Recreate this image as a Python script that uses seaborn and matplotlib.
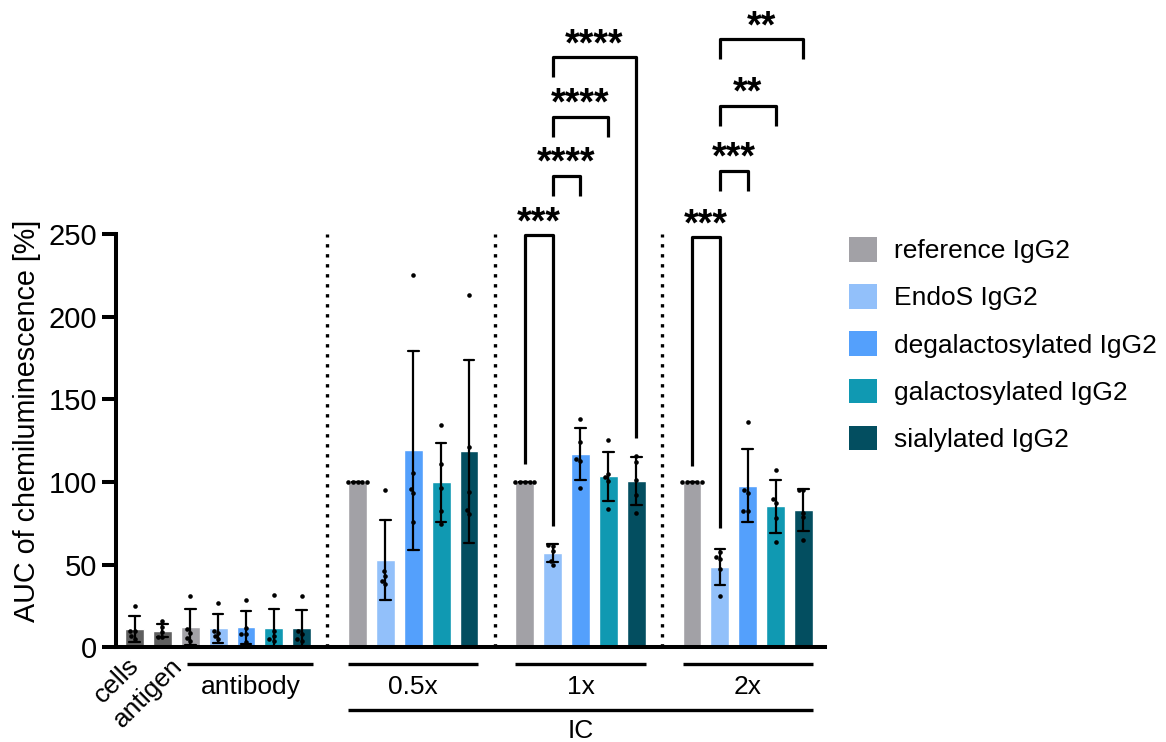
import numpy as np
import pandas as pd
import matplotlib
matplotlib.use("Agg")
import matplotlib.pyplot as plt
from matplotlib.patches import Patch
import seaborn as sns

# ---- data: AUC of chemiluminescence [%], five replicates per bar ----
series_names = ["reference IgG2", "EndoS IgG2", "degalactosylated IgG2",
                "galactosylated IgG2", "sialylated IgG2"]
series_colors = ["#A2A1A6", "#92C0FA", "#54A0FC", "#1099B2", "#034E60"]
control_color = "#5F5F5F"

cells = [25, 10, 10, 7, 5]
antigen = [16, 12.5, 9.5, 6.5, 6.5]

# per series, in the order of series_names
antibody = [[31, 11, 9, 6, 4],
            [27, 10, 9, 7, 5],
            [29, 12, 8, 8, 3.5],
            [32, 10, 7, 5, 4],
            [31, 10, 8, 5, 4]]
ic_05x = [[100, 100, 100, 100, 100],
          [95.5, 46, 43.4, 40.4, 38.6],
          [225.2, 105.7, 95.8, 93.4, 75.8],
          [134.4, 111.2, 96.2, 82.7, 74.9],
          [213, 121.5, 94.2, 83.3, 80.9]]
ic_1x = [[100, 100, 100, 100, 100],
         [62, 61.5, 58.5, 52.5, 50],
         [138.4, 124.1, 113.8, 112.6, 96.2],
         [125.3, 105.1, 102.9, 100.7, 84],
         [116, 112.4, 101.3, 92.4, 81.1]]
ic_2x = [[100, 100, 100, 100, 100],
         [57.5, 54.5, 53.3, 47.2, 30.9],
         [136.4, 95.2, 93.6, 82.3, 82.3],
         [107.1, 90, 87.6, 78.1, 63.7],
         [95.2, 95.2, 81.5, 78.7, 65]]

group_labels = ["antibody", "0.5x", "1x", "2x"]
ic_label = "IC"
y_ticks = [0, 50, 100, 150, 200, 250]
y_label = "AUC of chemiluminescence [%]"

# significance: (group index 1..3 within IC, first bar, second bar, label)
comparisons = [(1, 0, 1, "***"), (1, 1, 2, "****"), (1, 1, 3, "****"), (1, 1, 4, "****"),
               (2, 0, 1, "***"), (2, 1, 2, "***"), (2, 1, 3, "**"), (2, 1, 4, "**")]

# ---- long table: one slot per bar, empty slots separate the groups ----
rows = []
def add(slot, kind, values):
    for v in values:
        rows.append({"slot": slot, "kind": kind, "value": v})

add(0, "cells", cells)
add(1, "antigen", antigen)
group_start = [2, 8, 14, 20]
for g, block in enumerate([antibody, ic_05x, ic_1x, ic_2x]):
    for i, vals in enumerate(block):
        add(group_start[g] + i, series_names[i], vals)
df = pd.DataFrame(rows)

palette = {"cells": control_color, "antigen": control_color}
palette.update(dict(zip(series_names, series_colors)))

# ---- style ----
sns.set_theme(style="ticks")
plt.rcParams["font.family"] = ["Liberation Sans", "DejaVu Sans"]
plt.rcParams.update({
    "axes.linewidth": 2.9,
    "text.color": "black",
    "axes.labelcolor": "black",
    "axes.edgecolor": "black",
    "xtick.color": "black",
    "ytick.color": "black",
})

FS = 19

fig = plt.figure(figsize=(11.66, 7.42), dpi=100)
ax = fig.add_axes([0.0995, 0.1274, 0.608, 0.557])

sns.barplot(data=df, x="slot", y="value", hue="kind", palette=palette,
            native_scale=True, width=0.68, errorbar="sd", capsize=0.38,
            err_kws={"color": "black", "linewidth": 1.6}, saturation=1,
            dodge=False, legend=False, ax=ax)
sns.swarmplot(data=df, x="slot", y="value", color="black", size=3.3,
              native_scale=True, ax=ax, zorder=5)

ax.set_xlim(-0.664, 24.77)
ax.set_ylim(0, 250)
ax.set_yticks(y_ticks)
ax.set_xticks([])
ax.set_xlabel("")
ax.set_ylabel(y_label, fontsize=20.7)
ax.yaxis.set_label_coords(-0.106, 0.548)
ax.tick_params(axis="y", length=10, width=2.9, labelsize=21, pad=3.5)
for side in ("top", "right"):
    ax.spines[side].set_visible(False)

# dotted separators between antibody / IC groups
for s in (6.91, 12.92, 18.92):
    ax.plot([s, s], [0, 250], color="black", lw=2.4, linestyle=(0, (1, 2)),
            clip_on=False, zorder=1)

# group underlines and labels below the axis
line_kw = dict(color="black", lw=2.4, clip_on=False, solid_capstyle="butt")
spans = [(1.9, 6.42), (7.66, 12.34), (13.66, 18.34), (19.66, 24.34)]
for (x0, x1), lab in zip(spans, group_labels):
    ax.plot([x0, x1], [-9.7, -9.7], **line_kw)
    ax.text((x0 + x1) / 2, -24, lab, ha="center", va="center", fontsize=FS)
ax.plot([7.66, 24.34], [-38.1, -38.1], **line_kw)
ax.text(16.0, -50.5, ic_label, ha="center", va="center", fontsize=FS)

# rotated control labels
ax.text(-0.27, -3.5, "cells", rotation=45, ha="right", va="top",
        rotation_mode="anchor", fontsize=FS)
ax.text(1.27, -3.5, "antigen", rotation=45, ha="right", va="top",
        rotation_mode="anchor", fontsize=FS)

# significance brackets
group_tops = {1: [249.2, 285.3, 321.0, 357.0], 2: [248.0, 288.3, 327.5, 367.9]}
leg = 12.1
for (g, a, b, lab), k in zip(comparisons, [0, 1, 2, 3, 0, 1, 2, 3]):
    xa = group_start[g + 1] + a
    xb = group_start[g + 1] + b
    top = group_tops[g][k]
    left_bottom = top - leg
    right_bottom = top - leg
    if k == 0:
        left_bottom = group_tops[g][0] - 138.0
        right_bottom = group_tops[g][0] - 175.5
    if g == 1 and k == 3:
        right_bottom = 126.7
    ax.plot([xa, xa, xb, xb], [left_bottom, top, top, right_bottom], color="black",
            lw=2.3, clip_on=False, solid_joinstyle="round", solid_capstyle="butt")
    ax.annotate(lab, xy=((xa + xb) / 2, top), xytext=(0, 1.5), textcoords="offset points",
                ha="center", va="baseline", fontsize=27, fontweight="bold",
                annotation_clip=False)

# legend for the IgG2 variants
handles = [Patch(facecolor=c, edgecolor="none", label=n)
           for n, c in zip(series_names, series_colors)]
fig.legend(handles=handles, loc="upper left", bbox_to_anchor=(849 / 1166, 1 - 237 / 742),
           frameon=False, fontsize=FS, handlelength=1.06, handleheight=1.06,
           handletextpad=0.64, labelspacing=0.79, borderpad=0, borderaxespad=0)

fig.savefig("out.png", dpi=100)
